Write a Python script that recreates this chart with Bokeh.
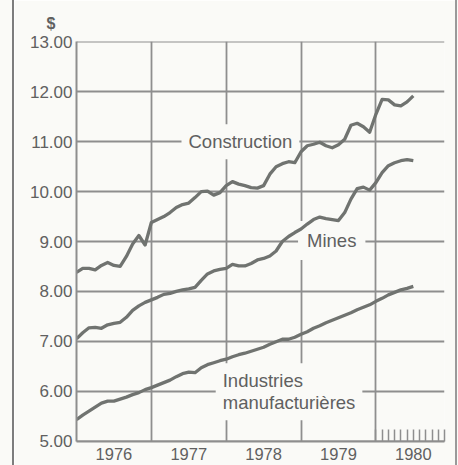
import numpy as np
import pandas as pd
from bokeh.plotting import figure
from bokeh.models import FixedTicker, Label, Range1d, Div
from bokeh.layouts import row
from bokeh.embed import file_html
from bokeh.resources import INLINE

# Monthly average hourly earnings (dollars), Jan 1976 - Jul 1980
months = pd.date_range("1976-01-01", periods=55, freq="MS")

construction = [8.38, 8.46, 8.46, 8.43, 8.52, 8.58, 8.52, 8.50, 8.70, 8.95, 9.12, 8.93,
                9.38, 9.44, 9.50, 9.58, 9.68, 9.74, 9.77, 9.88, 10.00, 10.01, 9.93, 9.98,
                10.12, 10.20, 10.15, 10.12, 10.08, 10.07, 10.12, 10.35, 10.50, 10.56, 10.60, 10.58,
                10.80, 10.92, 10.95, 10.99, 10.92, 10.88, 10.94, 11.05, 11.33, 11.37, 11.30, 11.19,
                11.55, 11.85, 11.84, 11.74, 11.72, 11.80, 11.92]

mines = [7.05, 7.17, 7.27, 7.28, 7.26, 7.33, 7.36, 7.38, 7.48, 7.62, 7.71, 7.78,
         7.83, 7.88, 7.94, 7.96, 8.00, 8.03, 8.05, 8.08, 8.22, 8.35, 8.41, 8.44,
         8.46, 8.54, 8.51, 8.51, 8.56, 8.63, 8.66, 8.71, 8.81, 9.00, 9.10, 9.18,
         9.25, 9.35, 9.44, 9.49, 9.46, 9.44, 9.42, 9.58, 9.85, 10.06, 10.09, 10.03,
         10.18, 10.38, 10.52, 10.58, 10.62, 10.64, 10.62]

industries = [5.43, 5.52, 5.60, 5.68, 5.76, 5.80, 5.80, 5.84, 5.88, 5.93, 5.97, 6.03,
              6.07, 6.12, 6.17, 6.22, 6.29, 6.35, 6.38, 6.37, 6.47, 6.53, 6.57, 6.61,
              6.64, 6.69, 6.73, 6.76, 6.80, 6.84, 6.88, 6.94, 6.99, 7.04, 7.04, 7.08,
              7.14, 7.19, 7.26, 7.31, 7.37, 7.42, 7.47, 7.52, 7.57, 7.63, 7.68, 7.73,
              7.80, 7.86, 7.93, 7.98, 8.03, 8.06, 8.10]

years = [1976, 1977, 1978, 1979, 1980]
year_labels = ["1976", "1977", "1978", "1979", "1980"]
y_ticks = [5, 6, 7, 8, 9, 10, 11, 12, 13]
y_tick_labels = ["5.00", "6.00", "7.00", "8.00", "9.00", "10.00", "11.00", "12.00", "13.00"]
months_1980 = pd.date_range("1980-01-01", periods=12, freq="MS")

def dec_year(d):
    return d.year + (d.month - 1) / 12.0

t = [dec_year(d) for d in months]

BG = "#fafaf7"
GRID = "#8e8e8e"
LINE = "#707370"
TXT = "#606060"
FONT = "Liberation Sans"

p = figure(width=441, height=465, output_backend="svg", toolbar_location=None,
           x_range=Range1d(1976, 1980 + 11 / 12), y_range=Range1d(4.99, 13.01),
           min_border_left=62, min_border_right=11, min_border_top=41, min_border_bottom=24)
p.background_fill_color = BG
p.border_fill_color = BG
p.outline_line_color = None

# unit label "$" as title, shifted left of the frame
p.title.text = "$"
p.title.align = "left"
p.title.offset = -30
p.title.standoff = 20
p.title.text_font = FONT
p.title.text_font_size = "16px"
p.title.text_color = TXT
p.title.text_font_style = "bold"

# axes
p.xaxis.ticker = FixedTicker(ticks=[y + 0.5 for y in years],
                             minor_ticks=[dec_year(d) for d in months_1980])
p.xaxis.major_label_overrides = {y + 0.5: lab for y, lab in zip(years, year_labels)}
p.xaxis.major_tick_in = 0
p.xaxis.major_tick_out = 0
p.xaxis.minor_tick_in = 12
p.xaxis.minor_tick_out = 0
p.xaxis.minor_tick_line_color = GRID
p.xaxis.minor_tick_line_width = 1.5
p.xaxis.major_label_standoff = 6

p.yaxis.ticker = FixedTicker(ticks=y_ticks)
p.yaxis.major_label_overrides = {v: lab for v, lab in zip(y_ticks, y_tick_labels)}
p.yaxis.major_tick_in = 0
p.yaxis.major_tick_out = 0
p.yaxis.minor_tick_line_color = None
p.yaxis.major_label_standoff = 4

for ax in (p.xaxis, p.yaxis):
    ax.axis_line_color = GRID
    ax.axis_line_width = 2
    ax.major_label_text_font = FONT
    ax.major_label_text_color = TXT
    ax.major_label_text_font_size = "17px"
p.xaxis.major_label_text_font_size = "16.5px"

p.xgrid.ticker = FixedTicker(ticks=years[1:])
p.xgrid.grid_line_color = GRID
p.xgrid.grid_line_width = 1.8
p.ygrid.grid_line_color = GRID
p.ygrid.grid_line_width = 1.8

# series
for series in (construction, mines, industries):
    p.line(t, series, line_color=LINE, line_width=3.3, line_join="round")

# series labels: their background interrupts the grid but not the curves
lab_kw = dict(text_font=FONT, text_color=TXT, text_font_size="18.5px",
              background_fill_color=BG, level="underlay")
p.add_layout(Label(x=1978.19, y=11.0, text="Construction", text_align="center",
                   text_baseline="middle", padding=7, **lab_kw))
p.add_layout(Label(x=1979.41, y=9.02, text="Mines", text_align="center",
                   text_baseline="middle", padding=9, **lab_kw))
p.add_layout(Label(x=1977.86, y=6.56, text="Industries\nmanufacturières", text_align="left",
                   text_baseline="top", text_line_height=1.05, padding=7, **lab_kw))

# page frame lines
left_edge = Div(width=14, height=465, margin=0,
                styles={"box-sizing": "border-box", "border-right": "2px solid #7d7d7d",
                        "background-color": BG})
right_edge = Div(width=3, height=465, margin=0,
                 styles={"box-sizing": "border-box", "border-left": "2px solid #9a9a9a",
                         "background-color": BG})

layout = row(left_edge, p, right_edge, spacing=0)
open("out.html", "w").write(file_html(layout, INLINE))
